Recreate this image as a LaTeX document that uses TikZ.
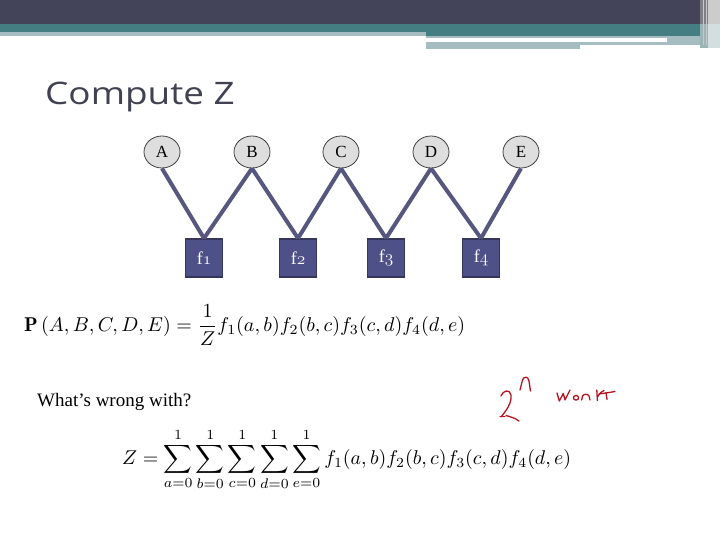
\documentclass[tikz,border=0pt]{standalone}
\usepackage{fontspec}
\usepackage{amsmath}
\usetikzlibrary{shapes.geometric}
\newfontfamily\titlefont{Open Sans}
\newfontfamily\serifg{Liberation Serif}
\newcommand{\osn}[1]{{\usefont{OML}{cmm}{m}{it}#1}}
\definecolor{darkband}{HTML}{434459}
\definecolor{tealband}{HTML}{457E82}
\definecolor{lightband}{HTML}{A5BDC0}
\definecolor{titlecol}{HTML}{404252}
\definecolor{varfill}{HTML}{DEDEDE}
\definecolor{facfill}{HTML}{4E5088}
\definecolor{facborder}{HTML}{35365A}
\definecolor{linkcol}{HTML}{55577E}
\definecolor{inkred}{HTML}{B3141E}
\tikzset{
  var/.style={ellipse, draw=black!75, fill=varfill, minimum width=36pt, minimum height=32pt, inner sep=0pt,
    line width=0.8pt, font=\serifg\fontsize{17}{17}\selectfont},
  fac/.style={rectangle, draw=facborder, fill=facfill, minimum width=37pt, minimum height=38pt, inner sep=0pt,
    line width=1.4pt, text=white, font=\serifg\fontsize{18}{18}\selectfont},
  link/.style={draw=linkcol, line width=4pt},
  ink/.style={draw=inkred, line width=1.3pt, line cap=round, line join=round}
}
\begin{document}
\begin{tikzpicture}[x=1pt,y=-1pt]
\useasboundingbox (0,0) rectangle (720,540);
\fill[white] (0,0) rectangle (720,540);
% top bands
\fill[darkband] (0,0) rectangle (703,24);
\fill[tealband] (0,24) rectangle (703,36);
\fill[lightband] (0,32) rectangle (426,36);
\fill[lightband] (426,36) rectangle (707,45.3);
\fill[white] (426,38.5) rectangle (667,42);
\fill[lightband] (426,45.3) rectangle (580,48.7);
\fill[black!40!darkband!60!white] (700,0) rectangle (720,24);
\fill[black!5!lightband] (700,24) rectangle (708,48);
\fill[lightband!50!white] (708,24) rectangle (720,48);
\fill[black!20!white] (708,0) rectangle (720,24);
\draw[white!70!darkband, line width=0.8pt] (703,0) -- (703,45);
\draw[white!70!darkband, line width=0.8pt] (706,0) -- (706,45);
% title
\node[anchor=base west, inner sep=0pt, text=titlecol, font=\titlefont\fontsize{31}{31}\selectfont]
  (title) at (45,104.5) {\scalebox{1.19}[1]{Compute Z}};
% variables
\node[var] (A) at (162,152) {A};
\node[var] (B) at (252,152) {B};
\node[var] (C) at (341,152) {C};
\node[var] (D) at (431,152) {D};
\node[var] (E) at (521,152) {E};
% factors
\node[fac] (f1) at (204,258) {f\osn{1}};
\node[fac] (f2) at (298,258) {f\osn{2}};
\node[fac] (f3) at (386,258) {f\osn{3}};
\node[fac] (f4) at (481,258) {f\osn{4}};
% links
\draw[link] (A.south) -- (f1.north);
\draw[link] (B.south) -- (f1.north);
\draw[link] (B.south) -- (f2.north);
\draw[link] (C.south) -- (f2.north);
\draw[link] (C.south) -- (f3.north);
\draw[link] (D.south) -- (f3.north);
\draw[link] (D.south) -- (f4.north);
\draw[link] (E.south) -- (f4.north);
% equations
\node[anchor=west, inner sep=0pt] (eq1) at (24,325)
  {\resizebox{441pt}{!}{$\mathbf{P}\left(A,B,C,D,E\right)=\dfrac{1}{Z}f_1(a,b)f_2(b,c)f_3(c,d)f_4(d,e)$}};
\node[anchor=base west, inner sep=0pt, font=\serifg\fontsize{19}{19}\selectfont]
  (q) at (37,406) {What’s wrong with?};
\node[anchor=west, inner sep=0pt] (eq2) at (122,459.5)
  {\resizebox{449pt}{!}{$\displaystyle Z=\sum_{a=0}^{1}\sum_{b=0}^{1}\sum_{c=0}^{1}\sum_{d=0}^{1}\sum_{e=0}^{1}f_1(a,b)f_2(b,c)f_3(c,d)f_4(d,e)$}};
% handwriting "2^n work"
\draw[ink] (501,396) .. controls (503,390) and (510,389) .. (511,395)
  .. controls (512,403) and (506,411) .. (501,417);
\draw[ink] (500,416.5) -- (505,416.5);
\draw[ink] (506,415.5) .. controls (511,417) and (515,418) .. (519,421);
\draw[ink] (520,390) -- (522.5,380) .. controls (524,376) and (528,376) .. (529,381) -- (530.5,391);
\draw[ink] (557,393) -- (559.3,401) -- (563.3,393.5) -- (565,400) -- (570,390);
\draw[ink] (576,397.8) ellipse (2.6 and 2.3);
\draw[ink] (581.7,400) -- (582.5,396) .. controls (584,393.5) and (588,394) .. (589,396) -- (590,400);
\draw[ink] (596.8,390) -- (597.4,400.5);
\draw[ink] (597.4,397) .. controls (600,393) and (602,391) .. (604,390.5);
\draw[ink] (599,394) .. controls (606,393) .. (615,391.5);
\draw[ink] (606,392.5) -- (607,399.5);
\end{tikzpicture}
\end{document}
